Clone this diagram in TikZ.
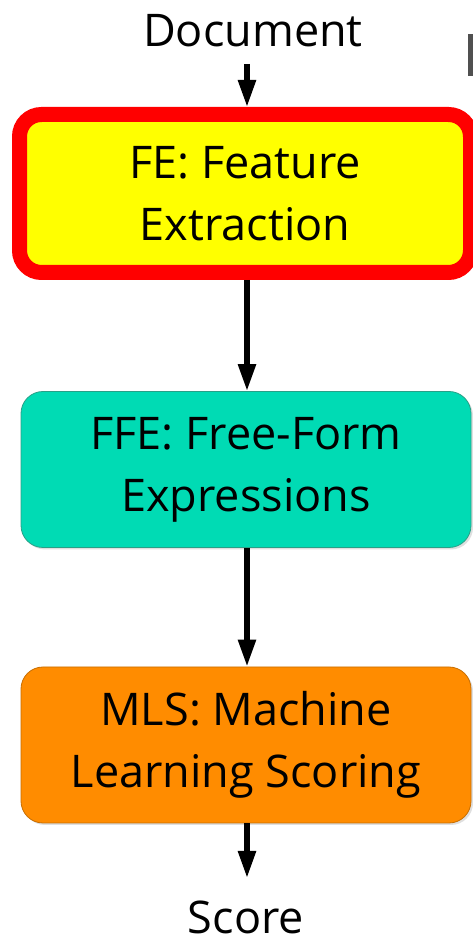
\documentclass[tikz,border=0pt]{standalone}
\usepackage{fontspec}
\setmainfont{Open Sans}
\usetikzlibrary{arrows.meta,shadows}

\definecolor{feyellow}{RGB}{255,255,0}
\definecolor{fered}{RGB}{255,0,0}
\definecolor{ffeteal}{RGB}{0,219,180}
\definecolor{ffeedge}{RGB}{40,160,135}
\definecolor{mlsorange}{RGB}{255,140,0}
\definecolor{mlsedge}{RGB}{200,110,0}
\definecolor{edgegray}{RGB}{80,80,80}

\tikzset{
  x=1pt, y=1pt,
  label text/.style={font=\fontsize{45}{62}\selectfont, text=black, inner sep=0pt},
  stage/.style={rounded corners=22pt, minimum width=450pt, minimum height=156pt,
    align=center, font=\fontsize{45}{62}\selectfont, text=black,
    drop shadow={opacity=0.25, shadow xshift=2pt, shadow yshift=-2pt}},
  flow/.style={-{Triangle[width=17pt,length=27pt]}, line width=5.5pt, black},
}

\begin{document}
\begin{tikzpicture}
  \useasboundingbox (0,0) rectangle (473,942);
  \fill[white] (0,0) rectangle (473,942);

  % edge of a neighbouring element at the top right
  \fill[edgegray] (468,866) rectangle (473,908);

  % input and output labels
  \node[label text, anchor=base] (doc) at (253,895) {Document};
  \node[label text, anchor=base] (score) at (246,9) {Score};

  % the three processing stages
  \node[stage, draw=fered, line width=15pt, fill=feyellow,
        minimum width=451pt, minimum height=158pt] (fe) at (245,748.5)
        {FE: Feature\\Extraction};
  \node[stage, draw=ffeedge, line width=0.8pt, fill=ffeteal] (ffe) at (246,472.5)
        {FFE: Free-Form\\Expressions};
  \node[stage, draw=mlsedge, line width=0.8pt, fill=mlsorange] (mls) at (246,197)
        {MLS: Machine\\Learning Scoring};

  % data flow
  \coordinate (docout) at (247,878);
  \coordinate (scorein) at (247,64);
  \draw[flow] (docout) -- (docout |- fe.north);
  \draw[flow] (fe.south -| docout) -- (ffe.north -| docout);
  \draw[flow] (ffe.south -| docout) -- (mls.north -| docout);
  \draw[flow] (mls.south -| docout) -- (scorein);
\end{tikzpicture}
\end{document}
